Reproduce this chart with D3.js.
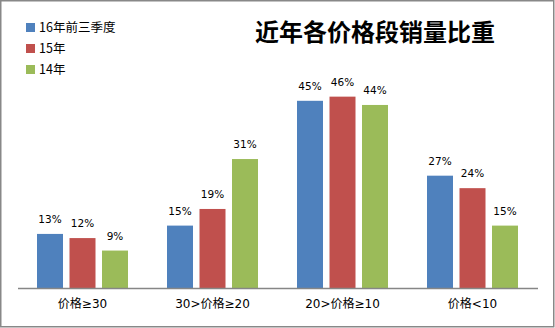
<!DOCTYPE html>
<html><head><meta charset="utf-8">
<script src="https://cdn.jsdelivr.net/npm/d3@7"></script>
<style>body{margin:0;background:#fff}</style>
</head><body>
<svg id="chart" width="555" height="328"></svg>
<script>
const categories = ["价格≥30", "30>价格≥20", "20>价格≥10", "价格<10"];
const seriesNames = ["16年前三季度", "15年", "14年"];
const s16q3 = [0.13, 0.15, 0.45, 0.27];
const s15 = [0.12, 0.19, 0.46, 0.24];
const s14 = [0.09, 0.31, 0.44, 0.15];
const colors = ["#4F81BD", "#C0504D", "#9BBB59"];
const title = "近年各价格段销量比重";

const series = [s16q3, s15, s14];
const svg = d3.select("#chart");
const plot = {left: 17.5, right: 537.5, top: 80, bottom: 288};

svg.append("rect").attr("x", 0.75).attr("y", 0.75).attr("width", 553).attr("height", 326)
  .attr("fill", "#fff").attr("stroke", "#888").attr("stroke-width", 1.5);

const x0 = d3.scaleBand().domain(categories).range([plot.left, plot.right]).paddingInner(0).paddingOuter(0);
const x1 = d3.scaleBand().domain(seriesNames).range([0, 97.5]).padding(0);
const y = d3.scaleLinear().domain([0, 0.5]).range([plot.bottom, plot.top]);
const barW = 26;
const groupOffset = (x0.bandwidth() - 97.5) / 2 + (97.5/3 - barW) / 2;

const g = svg.append("g");
series.forEach((vals, si) => {
  g.selectAll(null).data(vals).enter().append("rect")
    .attr("x", (d, i) => x0(categories[i]) + groupOffset + x1(seriesNames[si]))
    .attr("y", d => y(d))
    .attr("width", barW)
    .attr("height", d => y(0) - y(d))
    .attr("fill", colors[si]);
  g.selectAll(null).data(vals).enter().append("text")
    .attr("x", (d, i) => x0(categories[i]) + groupOffset + x1(seriesNames[si]) + barW / 2)
    .attr("y", d => y(d) - 11)
    .attr("text-anchor", "middle")
    .attr("font-family", "DejaVu Sans, sans-serif")
    .attr("font-size", "10.5px")
    .attr("fill", "#000")
    .text(d => d3.format(".0%")(d));
});

const xAxis = d3.axisBottom(x0).tickSize(0).tickPadding(11);
const ax = svg.append("g").attr("transform", `translate(0,${plot.bottom})`).call(xAxis);
ax.select(".domain").attr("stroke", "#868686").attr("stroke-width", 1.5);
ax.selectAll("text").attr("font-family", "DejaVu Sans, Noto Sans CJK SC, sans-serif").attr("font-size", "12px").attr("fill", "#000");

svg.append("text").attr("x", 375).attr("y", 41).attr("text-anchor", "middle")
  .attr("font-family", "Noto Sans CJK SC, sans-serif").attr("font-weight", "bold")
  .attr("font-size", "24px").attr("fill", "#000").text(title);

const leg = svg.append("g");
seriesNames.forEach((n, i) => {
  const cy = 27.5 + i * 21;
  leg.append("rect").attr("x", 26).attr("y", cy - 4.5).attr("width", 9).attr("height", 9).attr("fill", colors[i]);
  leg.append("text").attr("x", 39).attr("y", cy + 4.5)
    .attr("font-family", "Noto Sans CJK SC, sans-serif").attr("font-size", "12.5px").attr("fill", "#000").text(n);
});
</script>
</body></html>
